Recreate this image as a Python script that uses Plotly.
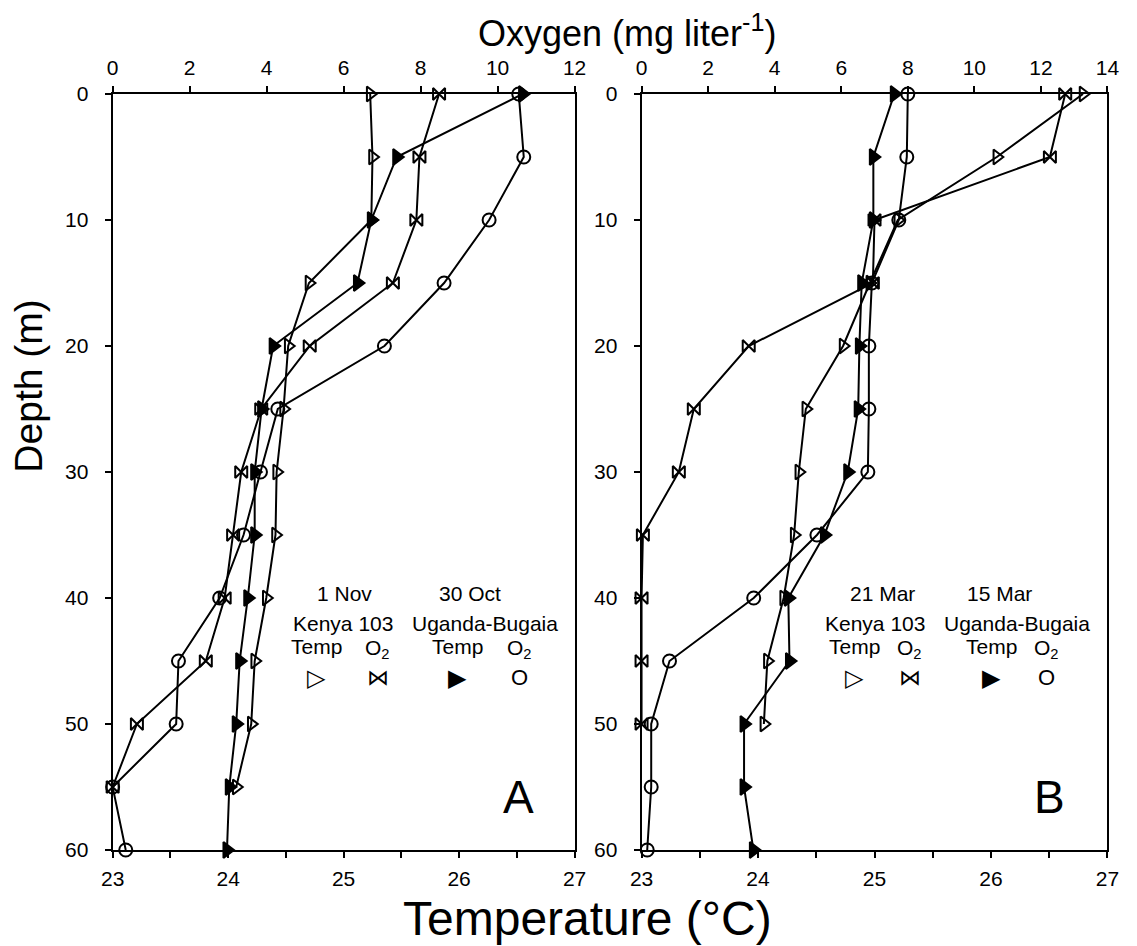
import plotly.graph_objects as go

# ---------------- data ----------------
depths = [0, 5, 10, 15, 20, 25, 30, 35, 40, 45, 50, 55, 60]

# Panel A (1 Nov Kenya 103, 30 Oct Uganda-Bugaia)
kenya_temp_A = [25.23, 25.25, 25.24, 24.70, 24.52, 24.48, 24.42, 24.41, 24.33, 24.23, 24.20, 24.07]
kenya_o2_A = [8.48, 7.97, 7.89, 7.28, 5.12, 3.86, 3.34, 3.13, 2.91, 2.42, 0.63, 0.0]
uganda_temp_A = [26.55, 25.46, 25.24, 25.12, 24.39, 24.29, 24.23, 24.23, 24.17, 24.10, 24.07, 24.01, 23.99]
uganda_o2_A = [10.55, 10.68, 9.78, 8.61, 7.06, 4.29, 3.84, 3.40, 2.78, 1.71, 1.65, 0.0, 0.34]

# Panel B (21 Mar Kenya 103, 15 Mar Uganda-Bugaia)
kenya_temp_B = [26.79, 26.05, 25.20, 24.96, 24.73, 24.41, 24.35, 24.31, 24.22, 24.08, 24.05]
kenya_o2_B = [12.73, 12.27, 7.0, 6.95, 3.22, 1.57, 1.12, 0.04, 0.0, 0.0, 0.0]
uganda_temp_B = [25.17, 24.99, 24.99, 24.89, 24.87, 24.86, 24.77, 24.57, 24.26, 24.27, 23.88, 23.88, 23.96]
uganda_o2_B = [8.0, 7.97, 7.73, 6.92, 6.83, 6.83, 6.80, 5.27, 3.37, 0.84, 0.29, 0.29, 0.17]

temp_ticks = [23, 24, 25, 26, 27]
o2_ticks_A = [0, 2, 4, 6, 8, 10, 12]
o2_ticks_B = [0, 2, 4, 6, 8, 10, 12, 14]
depth_ticks = [0, 10, 20, 30, 40, 50, 60]

# ---------------- figure ----------------
W, H = 1137, 946
TOP, BOT = 93, 849          # target pixel rows of depth 0 and 60
FONT = "Liberation Sans, Arial, Helvetica, sans-serif"
XOFF, XS = 16.9, 0.983      # empirical horizontal page mapping
XOFF2, XS2 = 3.5, 0.996     # second-pass fine correction


def px(x):
    x = (x - XOFF2) / XS2
    return (x - XOFF) / XS / W


def py(y):
    return (BOT - y) / (BOT - TOP)


fig = go.Figure()


def add(xvals, yvals, xaxis, yaxis, symbol, size=13):
    fig.add_trace(go.Scatter(
        x=xvals, y=yvals[:len(xvals)], xaxis=xaxis, yaxis=yaxis,
        mode="lines+markers", cliponaxis=False, showlegend=False,
        line=dict(color="black", width=2),
        marker=dict(symbol=symbol, size=size, color="black",
                    line=dict(color="black", width=2)),
    ))


# Panel A
add(kenya_temp_A, depths, "x", "y", "triangle-right-open", 13)
add(kenya_o2_A, depths, "x2", "y", "bowtie-open", 12)
add(uganda_temp_A, depths, "x", "y", "triangle-right", 14)
add(uganda_o2_A, depths, "x2", "y", "circle-open", 13)
# Panel B
add(kenya_temp_B, depths, "x3", "y2", "triangle-right-open", 13)
add(kenya_o2_B, depths, "x4", "y2", "bowtie-open", 12)
add(uganda_temp_B, depths, "x3", "y2", "triangle-right", 14)
add(uganda_o2_B, depths, "x4", "y2", "circle-open", 13)

tickfont = dict(family=FONT, size=21, color="black")
common = dict(showgrid=False, zeroline=False, showline=True, linecolor="black",
              linewidth=2, ticks="outside", ticklen=6, tickwidth=2,
              tickcolor="black", tickfont=tickfont)

domA = [px(113), px(575)]
domB = [px(642), px(1108)]

fig.update_layout(
    width=W, height=H,
    margin=dict(l=0, r=0, t=TOP - 7, b=H - BOT + 7),
    paper_bgcolor="white", plot_bgcolor="white",
    font=dict(family=FONT, color="black"),
    xaxis=dict(domain=domA, range=[23, 27], anchor="y", tickvals=temp_ticks,
               minor=dict(dtick=0.5, ticks="outside", ticklen=6, tickwidth=2, tickcolor="black"),
               ticklabelstandoff=3, **common),
    xaxis2=dict(domain=domA, range=[0, 12], anchor="y", overlaying="x", side="top",
                tickvals=o2_ticks_A, ticklabelstandoff=3, **common),
    yaxis=dict(domain=[0, 1], range=[60, 0], anchor="x", tickvals=depth_ticks,
               mirror=True, ticklabelstandoff=12, **common),
    xaxis3=dict(domain=domB, range=[23, 27], anchor="y2", tickvals=temp_ticks,
                minor=dict(dtick=0.5, ticks="outside", ticklen=6, tickwidth=2, tickcolor="black"),
                ticklabelstandoff=3, **common),
    xaxis4=dict(domain=domB, range=[0, 14], anchor="y2", overlaying="x3", side="top",
                tickvals=o2_ticks_B, ticklabelstandoff=3, **common),
    yaxis2=dict(domain=[0, 1], range=[60, 0], anchor="x3", tickvals=depth_ticks,
                mirror=True, ticklabelstandoff=12, **common),
)

ann = []


def text(x, y, t, size=21, angle=0):
    ann.append(dict(x=px(x), y=py(y), xref="paper", yref="paper", text=t,
                    showarrow=False, xanchor="center", yanchor="middle",
                    textangle=angle, font=dict(family=FONT, size=size, color="black")))


# axis titles
text(627, 30, "Oxygen (mg liter<sup>-1</sup>)", 36)
text(588, 918, "Temperature (°C)", 48)
text(28, 385, "Depth (m)", 39, -90)

# panel letters
text(519, 796, "A", 46)
text(1050, 796, "B", 46)

# legends
legends = [
    (("1 Nov", 345), ("30 Oct", 470), ("Kenya 103", 343), ("Uganda-Bugaia", 485),
     (317, 378, 458, 520)),
    (("21 Mar", 883), ("15 Mar", 1000), ("Kenya 103", 875), ("Uganda-Bugaia", 1018),
     (855, 910, 992, 1047)),
]
symbols = ["▷", "⋈", "▶", "O"]
sym_sizes = [24, 22, 24, 22]
for d1, d2, s1, s2, cols in legends:
    text(d1[1], 592, d1[0])
    text(d2[1], 592, d2[0])
    text(s1[1], 622, s1[0])
    text(s2[1], 622, s2[0])
    text(cols[0], 645, "Temp")
    text(cols[1], 648, "O<sub>2</sub>")
    text(cols[2], 645, "Temp")
    text(cols[3], 648, "O<sub>2</sub>")
    for c, s, sz in zip(cols, symbols, sym_sizes):
        text(c, 676, s, sz)

fig.update_layout(annotations=ann)
fig.write_html("out.html")
